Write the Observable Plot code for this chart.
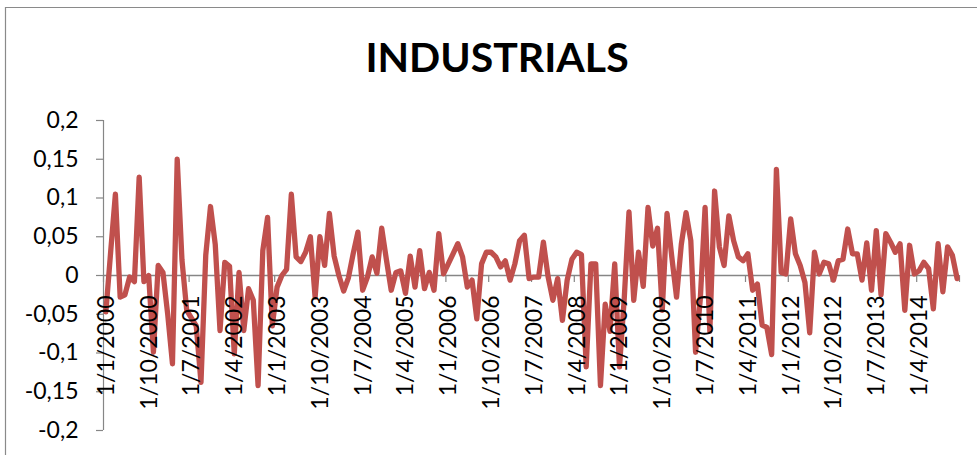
<!DOCTYPE html>
<html>
<head>
<meta charset="utf-8">
<script src="https://cdn.jsdelivr.net/npm/d3@7"></script>
<script src="https://cdn.jsdelivr.net/npm/@observablehq/plot@0.6"></script>
<style>
  html, body { margin: 0; padding: 0; background: #fff; }
  #chart { width: 977px; height: 455px; overflow: hidden; }
</style>
</head>
<body>
<div id="chart"></div>
<script>
// Monthly returns of the industrials sector, January 2000 onwards (one value per month)
const firstYear = 2000;
const industrials = [
  -0.047, 0.030, 0.105, -0.028, -0.025, -0.002, -0.008, 0.127, -0.008, 0.000, -0.099, 0.013,
  0.004, -0.050, -0.114, 0.150, 0.020, -0.045, -0.055, -0.065, -0.138, 0.026, 0.089, 0.040,
  -0.071, 0.017, 0.012, -0.101, 0.004, -0.071, -0.017, -0.032, -0.142, 0.032, 0.075, -0.065,
  -0.015, 0.000, 0.008, 0.105, 0.024, 0.018, 0.030, 0.050, -0.028, 0.050, 0.013, 0.080,
  0.025, 0.000, -0.020, -0.003, 0.028, 0.056, -0.019, -0.002, 0.024, 0.003, 0.061, 0.020,
  -0.019, 0.004, 0.006, -0.023, 0.025, -0.015, 0.032, -0.017, 0.004, -0.019, 0.054, 0.002,
  0.015, 0.028, 0.041, 0.024, -0.015, -0.006, -0.056, 0.015, 0.030, 0.030, 0.024, 0.011,
  0.019, -0.006, 0.015, 0.045, 0.052, -0.004, -0.002, -0.002, 0.043, -0.002, -0.032, -0.004,
  -0.058, -0.006, 0.021, 0.030, 0.027, -0.118, 0.015, 0.015, -0.142, -0.037, -0.072, 0.015,
  -0.118, -0.030, 0.082, -0.032, 0.030, -0.014, 0.088, 0.038, 0.061, -0.045, 0.080, 0.024,
  -0.028, 0.040, 0.081, 0.045, -0.099, -0.030, 0.088, -0.072, 0.109, 0.037, 0.013, 0.077,
  0.045, 0.024, 0.019, 0.028, -0.019, -0.011, -0.064, -0.067, -0.102, 0.137, 0.004, 0.002,
  0.073, 0.028, 0.013, -0.009, -0.074, 0.030, 0.002, 0.017, 0.015, -0.006, 0.019, 0.021,
  0.060, 0.028, 0.028, -0.006, 0.042, -0.019, 0.058, -0.025, 0.054, 0.043, 0.030, 0.041,
  -0.045, 0.039, 0.002, 0.006, 0.017, 0.009, -0.043, 0.041, -0.021, 0.037, 0.026, -0.004
];

// Date labels along the category axis (d/m/yyyy), every nine months
const xTickLabels = [
  "1/1/2000", "1/10/2000", "1/7/2001", "1/4/2002", "1/1/2003", "1/10/2003", "1/7/2004",
  "1/4/2005", "1/1/2006", "1/10/2006", "1/7/2007", "1/4/2008", "1/1/2009", "1/10/2009",
  "1/7/2010", "1/4/2011", "1/1/2012", "1/10/2012", "1/7/2013", "1/4/2014"
];

// Value axis ticks
const yTicks = [-0.2, -0.15, -0.1, -0.05, 0, 0.05, 0.1, 0.15, 0.2];

const title = "INDUSTRIALS";

// Month offset of a d/m/yyyy label from January of the first year
const monthOffset = (label) => {
  const [, m, y] = label.split("/").map(Number);
  return (y - firstYear) * 12 + (m - 1);
};

const series = industrials.map((v, i) => ({month: i, value: v}));
const nMonths = industrials.length;
const labelTicks = xTickLabels.map((label) => ({label, pos: monthOffset(label)}));
const tickPositions = [...labelTicks.map((d) => d.pos), nMonths];

const axisGray = "#868686";
const lineRed = "#C0504D";
const commaFormat = (v) => String(+v.toFixed(2)).replace(".", ",");

const W = 977, H = 455;
const marginLeft = 103, marginRight = 18, marginTop = 120, marginBottom = 25;
const pxPerMonth = (W - marginLeft - marginRight) / nMonths;
const pxPerUnit = (H - marginTop - marginBottom) / 0.4;

const chart = Plot.plot({
  width: W,
  height: H,
  marginLeft, marginRight, marginTop, marginBottom,
  x: {type: "linear", domain: [0, nMonths], axis: null},
  y: {domain: [-0.2, 0.2], axis: null},
  style: {fontFamily: "Lato, 'Open Sans', sans-serif", fontSize: "23px", background: "#fff", color: "#000"},
  marks: [
    // value axis line and outside tick marks
    Plot.ruleX([0], {y1: -0.2, y2: 0.2, stroke: axisGray, strokeWidth: 1.2}),
    Plot.ruleY(yTicks, {x1: -7 / pxPerMonth, x2: 0, stroke: axisGray, strokeWidth: 1.2}),
    // category axis crossing at zero, with tick marks below it
    Plot.ruleY([0], {x1: 0, x2: nMonths, stroke: axisGray, strokeWidth: 1.4}),
    Plot.ruleX(tickPositions, {x: (d) => d, y1: 0, y2: -7 / pxPerUnit, stroke: axisGray, strokeWidth: 1.2}),
    // the monthly series, points centred in each month
    Plot.line(series, {
      x: (d) => d.month + 0.5,
      y: "value",
      stroke: lineRed,
      strokeWidth: 5.3,
      strokeLinejoin: "round",
      strokeLinecap: "round"
    }),
    // value labels
    Plot.text(yTicks, {
      x: 0, y: (d) => d, text: commaFormat,
      textAnchor: "end", dx: -25, fill: "#000", fontSize: 23
    }),
    // rotated date labels hanging below the zero line
    Plot.text(labelTicks, {
      x: "pos", y: 0, text: "label",
      rotate: -90, textAnchor: "end", lineAnchor: "middle",
      dx: 3, dy: 20, fill: "#000", fontSize: 23
    })
  ]
});

const svg = d3.select(chart);
svg.style("overflow", "visible");
// chart-area border (left and top edges)
svg.insert("path", ":first-child")
  .attr("d", "M5.5,460V7.5H980")
  .attr("fill", "none")
  .attr("stroke", "#8a8a8a")
  .attr("stroke-width", 1.2);
// chart title
svg.append("text")
  .attr("x", 497)
  .attr("y", 72)
  .attr("text-anchor", "middle")
  .attr("font-family", "Lato, 'Open Sans', sans-serif")
  .attr("font-weight", "bold")
  .attr("font-size", 41)
  .attr("fill", "#000")
  .text(title);

document.getElementById("chart").appendChild(chart);
</script>
</body>
</html>
